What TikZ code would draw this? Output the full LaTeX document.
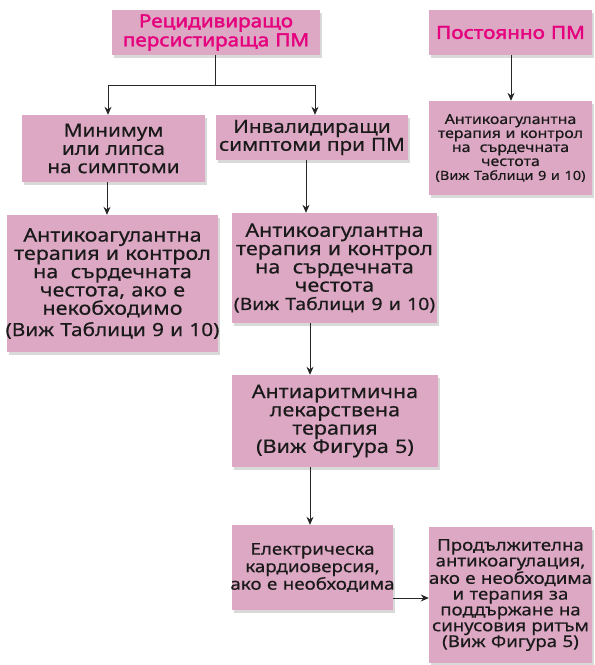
\documentclass[tikz,border=0pt]{standalone}
\usepackage{fontspec}
\setmainfont[Script=Cyrillic,Language=Bulgarian,FakeStretch=1.15,FakeBold=0.5]{Noto Sans}
\newfontfamily\titlef[Script=Cyrillic,Language=Bulgarian,FakeStretch=1.15,FakeBold=2]{Noto Sans}
\usetikzlibrary{shadows,arrows.meta}
\definecolor{boxfill}{HTML}{DCA8C3}
\definecolor{titlemag}{HTML}{E5007D}
\definecolor{txt}{HTML}{1A1A1A}
\newcommand{\wl}[1]{\makebox[\linewidth]{#1}}
\newcommand{\wls}[2]{\makebox[\linewidth]{\fontsize{#1}{#1}\selectfont #2}}
\begin{document}
\begin{tikzpicture}[x=1pt,y=1pt,
  pbox/.style={draw=none, fill=boxfill, inner sep=0pt, align=center, text=txt,
    drop shadow={opacity=0.3, shadow xshift=2pt, shadow yshift=-3pt}},
  tfont/.style={font=\titlef\fontsize{18}{19}\selectfont, text=titlemag},
  bfont/.style={font=\fontsize{18.7}{18.3}\selectfont},
  sfont/.style={font=\fontsize{13.8}{14}\selectfont},
  hfont/.style={font=\fontsize{16.2}{15.8}\selectfont},
  conn/.style={draw=black!85, line width=0.8pt},
  arr/.style={conn, -{Stealth[length=8pt,width=7pt]}}
]
\useasboundingbox (0,0) rectangle (595,665);
% boxes (y = 665 - image y)
\node[pbox, tfont, minimum width=208, minimum height=45, text width=206] (A) at (216,632.5) {Рецидивиращо\\персистираща ПМ};
\node[pbox, tfont, minimum width=163, minimum height=45, text width=162] (P) at (510.5,632.5) {Постоянно ПМ};
\node[pbox, sfont, minimum width=163, minimum height=94, text width=162] (P2) at (510.5,517) {Антикоагулантна\\терапия и контрол\\на \ сърдечната\\честота\\\wls{12.6}{(Виж Таблици 9 и 10)}};
\node[pbox, font=\fontsize{18}{18.3}\selectfont, minimum width=183, minimum height=67, text width=182] (B) at (113.5,516.5) {Минимум\\или липса\\на симптоми};
\node[pbox, font=\fontsize{18}{18}\selectfont, minimum width=192, minimum height=45, text width=191] (C) at (312,527.5) {Инвалидиращи\\\wl{симптоми при ПМ}};
\node[pbox, bfont, minimum width=211, minimum height=137, text width=210] (D) at (112.5,381.5) {\wl{Антикоагулантна}\\\wl{терапия и контрол}\\на \ сърдечната\\честота, ако е\\некобходимо\\[3pt]\wls{18.1}{(Виж Таблици 9 и 10)}};
\node[pbox, bfont, minimum width=205, minimum height=110, text width=204] (E) at (334.5,397) {\wl{Антикоагулантна}\\\wl{терапия и контрол}\\на \ сърдечната\\честота\\\wls{16.9}{(Виж Таблици 9 и 10)}};
\node[pbox, bfont, minimum width=206, minimum height=92, text width=204] (F) at (335,244) {\wl{Антиаритмична}\\лекарствена\\терапия\\\wl{(Виж Фигура 5)}};
\node[pbox, font=\fontsize{16.3}{17.5}\selectfont, minimum width=161, minimum height=85, text width=160] (G) at (312.5,97.5) {\wl{Електрическа}\\\wl{кардиоверсия,}\\\wl{ако е необходима}};
\node[pbox, hfont, minimum width=163, minimum height=136, text width=162] (H) at (510.5,70) {\wl{Продължителна}\\\wl{антикоагулация,}\\\wl{ако е необходима}\\\wl{и терапия за}\\\wl{поддържане на}\\\wl{синусовия ритъм}\\\wl{(Виж Фигура 5)}};
% connectors
\coordinate (j) at (215,580);
\coordinate (jl) at (108,580);
\coordinate (jr) at (315,580);
\draw[conn] (A.south -| j) -- (j);
\draw[conn] (jl) -- (jr);
\draw[arr] (jl) -- (B.north -| jl);
\draw[arr] (jr) -- (C.north -| jr);
\draw[arr] (P.south -| 511,0) -- (P2.north -| 511,0);
\draw[arr] (B.south -| 107,0) -- (D.north -| 107,0);
\draw[arr] (C.south -| 306,0) -- (E.north -| 306,0);
\draw[arr] (E.south -| 310,0) -- (F.north -| 310,0);
\draw[arr] (F.south -| 310,0) -- (G.north -| 310,0);
\draw[arr] (G.east |- 0,67) -- (H.west |- 0,67);
\end{tikzpicture}
\end{document}
